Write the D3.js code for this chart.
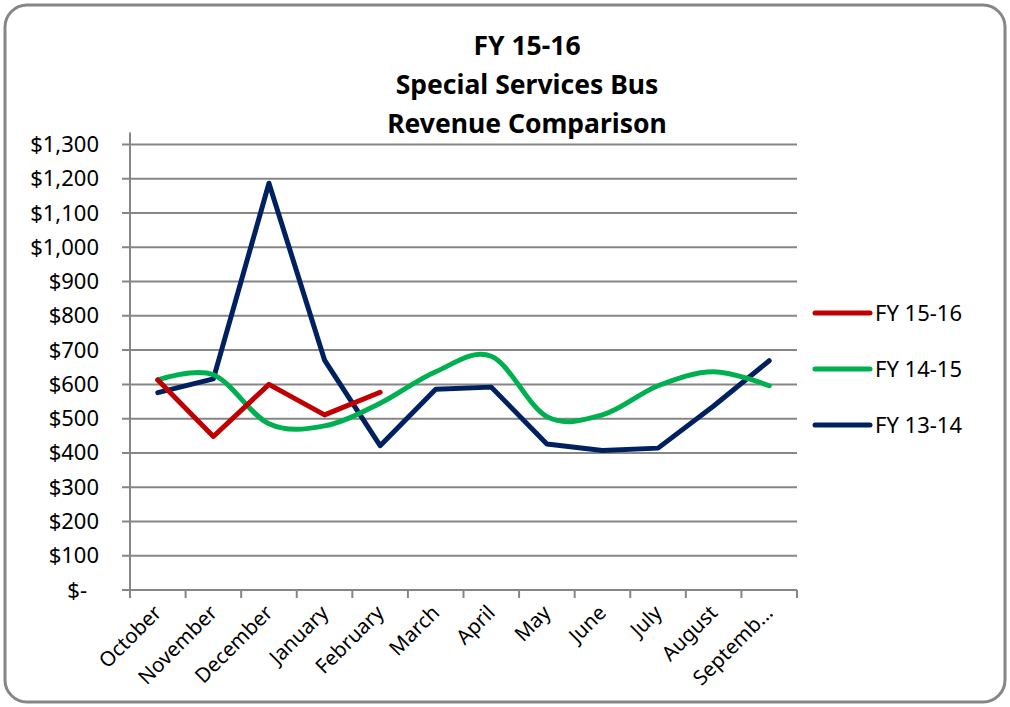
<!DOCTYPE html>
<html>
<head>
<meta charset="utf-8">
<script src="https://cdn.jsdelivr.net/npm/d3@7"></script>
<style>
  body { margin: 0; background: #fff; }
  svg text { font-family: "Noto Sans", sans-serif; fill: #000; }
</style>
</head>
<body>
<svg id="chart" width="1010" height="707"></svg>
<script>
const months = ["October", "November", "December", "January", "February", "March",
  "April", "May", "June", "July", "August", "Septemb..."];
const fy1516 = [613, 448, 600, 511, 577];
const fy1415 = [613, 628, 485, 479, 545, 637, 682, 506, 511, 596, 637, 596];
const fy1314 = [576, 616, 1187, 671, 421, 586, 592, 426, 407, 414, 537, 669];
const seriesNames = ["FY 15-16", "FY 14-15", "FY 13-14"];
const yTicks = d3.range(0, 1301, 100);

const width = 1010;
const height = 707;
const plotLeft = 130, plotRight = 797, plotTop = 144.5, plotBottom = 590;

const svg = d3.select("#chart");

// outer frame
svg.append("rect")
  .attr("x", 5).attr("y", 5)
  .attr("width", width - 10).attr("height", height - 10)
  .attr("rx", 22).attr("ry", 22)
  .attr("fill", "#fff")
  .attr("stroke", "#868686")
  .attr("stroke-width", 3);

// title
const title = ["FY 15-16", "Special Services Bus", "Revenue Comparison"];
svg.append("g").selectAll("text")
  .data(title)
  .join("text")
  .attr("x", 527)
  .attr("y", (d, i) => 55 + i * 39)
  .attr("text-anchor", "middle")
  .attr("font-size", 26.5)
  .attr("font-weight", "bold")
  .text(d => d);

const xScale = d3.scaleBand().domain(months).range([plotLeft, plotRight]);
const yScale = d3.scaleLinear().domain([0, 1300]).range([plotBottom, plotTop]);

// gridlines
svg.append("g").selectAll("line")
  .data(yTicks)
  .join("line")
  .attr("x1", plotLeft - 8).attr("x2", plotRight)
  .attr("y1", d => yScale(d)).attr("y2", d => yScale(d))
  .attr("stroke", "#868686")
  .attr("stroke-width", 2);

// y axis
const yAxis = d3.axisLeft(yScale)
  .tickValues(yTicks)
  .tickSize(0)
  .tickPadding(31)
  .tickFormat(d => d === 0 ? "$-" : "$" + d3.format(",")(d));
svg.append("g")
  .attr("transform", `translate(${plotLeft},0)`)
  .call(yAxis)
  .call(g => g.select(".domain").remove())
  .call(g => g.selectAll("text")
    .attr("font-size", 22)
    .attr("font-family", "Noto Sans")
    .attr("dx", d => d === 0 ? -12 : 0));

svg.append("line")
  .attr("x1", plotLeft).attr("x2", plotLeft)
  .attr("y1", plotTop - 12).attr("y2", plotBottom)
  .attr("stroke", "#868686").attr("stroke-width", 2);

// x axis
svg.append("line")
  .attr("x1", plotLeft).attr("x2", plotRight)
  .attr("y1", plotBottom).attr("y2", plotBottom)
  .attr("stroke", "#868686").attr("stroke-width", 2);

const bounds = months.map(m => xScale(m)).concat([plotRight]);
svg.append("g").selectAll("line")
  .data(bounds)
  .join("line")
  .attr("x1", d => d).attr("x2", d => d)
  .attr("y1", plotBottom).attr("y2", plotBottom + 8)
  .attr("stroke", "#868686").attr("stroke-width", 2);

svg.append("g").selectAll("text")
  .data(months)
  .join("text")
  .attr("font-size", 20.5)
  .attr("text-anchor", "end")
  .attr("transform", d => `translate(${xScale(d) + xScale.bandwidth() / 2 + 5},${plotBottom + 24}) rotate(-45)`)
  .text(d => d);

// lines
const cx = i => xScale(months[i]) + xScale.bandwidth() / 2;
const straight = d3.line().x((d, i) => cx(i)).y(d => yScale(d));
const smooth = d3.line().x((d, i) => cx(i)).y(d => yScale(d)).curve(d3.curveCardinal.tension(0));

const series = [
  { name: seriesNames[0], values: fy1516, color: "#C00000", gen: straight },
  { name: seriesNames[1], values: fy1415, color: "#00B050", gen: smooth },
  { name: seriesNames[2], values: fy1314, color: "#002060", gen: straight }
];

[...series].reverse().forEach(s => {
  svg.append("path")
    .attr("d", s.gen(s.values))
    .attr("fill", "none")
    .attr("stroke", s.color)
    .attr("stroke-width", 5)
    .attr("stroke-linejoin", "round")
    .attr("stroke-linecap", "round");
});

// legend
const legend = svg.append("g").selectAll("g")
  .data(series)
  .join("g")
  .attr("transform", (d, i) => `translate(815,${313 + i * 56})`);
legend.append("line")
  .attr("x1", 0).attr("x2", 55)
  .attr("stroke", d => d.color)
  .attr("stroke-width", 5)
  .attr("stroke-linecap", "round");
legend.append("text")
  .attr("x", 60).attr("dy", "0.35em")
  .attr("font-size", 22)
  .text(d => d.name);
</script>
</body>
</html>
